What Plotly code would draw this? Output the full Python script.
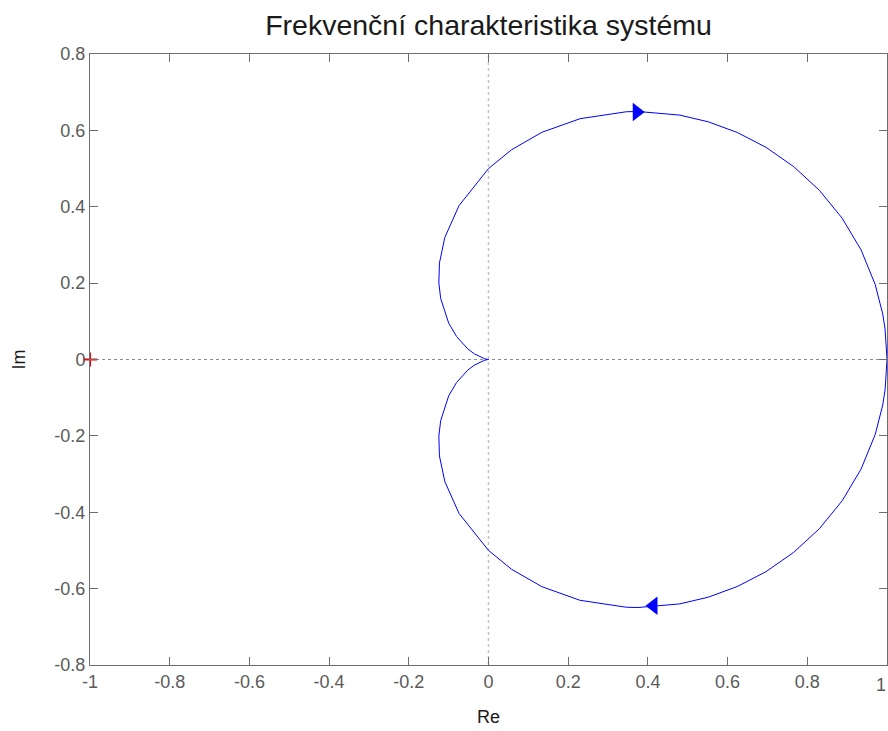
import plotly.graph_objects as go

# Nyquist curve, positive frequencies (lower half)
re_vals = [1.0, 0.9952, 0.9893, 0.9705, 0.9350, 0.8876, 0.8305, 0.7659, 0.6964,
           0.6243, 0.5515, 0.48, 0.375, 0.3460, 0.2297, 0.1339, 0.0580, 0.0,
           -0.0739, -0.1096, -0.1231, -0.1246, -0.12, -0.0999, -0.08, -0.0519,
           -0.0355, -0.0192, -0.0097, -0.0025, 0.0]
im_lower = [0.0, -0.0797, -0.1191, -0.1961, -0.2869, -0.3698, -0.4429, -0.5050, -0.5556,
            -0.5945, -0.6224, -0.64, -0.6495, -0.6488, -0.6306, -0.5949, -0.5494, -0.5,
            -0.4031, -0.3196, -0.2525, -0.2003, -0.16, -0.0951, -0.06, -0.0277,
            -0.0148, -0.0056, -0.0020, -0.0003, 0.0]
# negative frequencies (upper half)
im_upper = [0.0, 0.0797, 0.1191, 0.1961, 0.2869, 0.3698, 0.4429, 0.5050, 0.5556,
            0.5945, 0.6224, 0.64, 0.6495, 0.6488, 0.6306, 0.5949, 0.5494, 0.5,
            0.4031, 0.3196, 0.2525, 0.2003, 0.16, 0.0951, 0.06, 0.0277,
            0.0148, 0.0056, 0.0020, 0.0003, 0.0]

# direction arrows
arrow_x = [0.372, 0.414]
arrow_y = [0.648, -0.645]
arrow_sym = ["triangle-right", "triangle-left"]

# critical point
crit_x = [-1.0]
crit_y = [0.0]

x_ticks = [-1, -0.8, -0.6, -0.4, -0.2, 0, 0.2, 0.4, 0.6, 0.8, 1]
x_labels = ["-1", "-0.8", "-0.6", "-0.4", "-0.2", "0", "0.2", "0.4", "0.6", "0.8", "1"]
y_ticks = [-0.8, -0.6, -0.4, -0.2, 0, 0.2, 0.4, 0.6, 0.8]
y_labels = ["-0.8", "-0.6", "-0.4", "-0.2", "0", "0.2", "0.4", "0.6", "0.8"]

FONT = "Liberation Sans, Arial, Helvetica, sans-serif"
BLUE = "#0000ff"
TICK_COLOR = "#5a5a5a"

fig = go.Figure()
fig.add_hline(y=0, line=dict(color="#8c8c8c", width=1, dash="dot"), layer="below")
fig.add_vline(x=0, line=dict(color="#c4c4c4", width=1.5, dash="dot"), layer="below")

fig.add_trace(go.Scatter(x=re_vals, y=im_lower, mode="lines",
                         line=dict(color=BLUE, width=1), hoverinfo="skip"))
fig.add_trace(go.Scatter(x=re_vals, y=im_upper, mode="lines",
                         line=dict(color=BLUE, width=1), hoverinfo="skip"))
fig.add_trace(go.Scatter(x=arrow_x, y=arrow_y, mode="markers",
                         marker=dict(symbol=arrow_sym, size=16, color=BLUE,
                                     line=dict(width=0)), hoverinfo="skip"))
fig.add_trace(go.Scatter(x=crit_x, y=crit_y, mode="markers", cliponaxis=False,
                         marker=dict(symbol="cross-thin", size=10,
                                     line=dict(color="#ff0000", width=2)),
                         hoverinfo="skip"))

axis_common = dict(showgrid=False, zeroline=False, showline=True, linecolor="#6e6e6e",
                   linewidth=1, mirror="ticks", ticks="inside", ticklen=8,
                   tickcolor="#6e6e6e", tickfont=dict(family=FONT, size=18, color=TICK_COLOR))

# the last x tick label sits at the window edge; keep it fully visible
fig.add_annotation(x=x_ticks[-1], xref="x", y=0, yref="paper", yanchor="top",
                   xanchor="right", xshift=1, yshift=-8, text=x_labels[-1], showarrow=False,
                   font=dict(family=FONT, size=18, color=TICK_COLOR))

fig.update_layout(
    width=888, height=731,
    margin=dict(l=90, r=1, t=54, b=66),
    paper_bgcolor="white", plot_bgcolor="white",
    showlegend=False,
    title=dict(text="Frekvenční charakteristika systému", x=0.5, xref="paper",
               xanchor="center", y=1, yref="container", yanchor="top", pad=dict(t=15),
               font=dict(family=FONT, size=28.5, color="#1a1a1a")),
    xaxis=dict(range=[-1, 1], tickvals=x_ticks[:-1], ticktext=x_labels[:-1],
               title=dict(text="Re", font=dict(family=FONT, size=18, color="#1a1a1a"),
                          standoff=19),
               **axis_common),
    yaxis=dict(range=[-0.8, 0.8], tickvals=y_ticks, ticktext=y_labels,
               title=dict(text="Im", font=dict(family=FONT, size=18, color="#1a1a1a"),
                          standoff=24),
               **axis_common),
)

fig.write_html("out.html")
